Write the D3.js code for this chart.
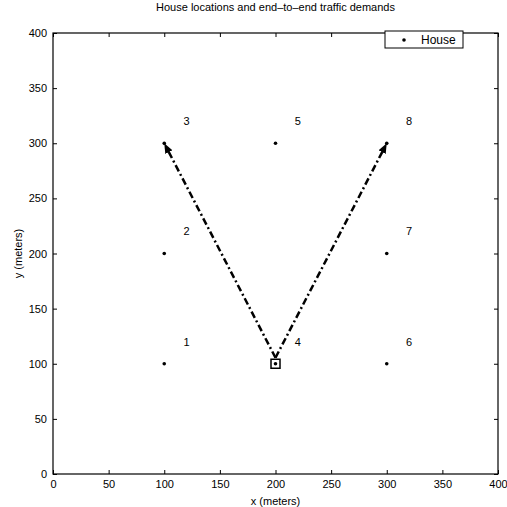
<!DOCTYPE html>
<html>
<head>
<meta charset="utf-8">
<script src="https://cdn.jsdelivr.net/npm/d3@7.9.0/dist/d3.min.js"></script>
<style>
  body { margin: 0; background: #fff; }
  svg { display: block; font-family: "Liberation Sans", Arial, sans-serif; }
</style>
</head>
<body>
<svg id="chart" width="507" height="507"></svg>
<script>
// House positions (meters)
const houseIds = [1, 2, 3, 4, 5, 6, 7, 8];
const houseX = [100, 100, 100, 200, 200, 300, 300, 300];
const houseY = [100, 200, 300, 100, 300, 100, 200, 300];

// traffic demands: from house -> to house
const demandFrom = [4, 4];
const demandTo = [3, 8];

// the gateway house drawn with a square
const gateway = 4;

const ticks = [0, 50, 100, 150, 200, 250, 300, 350, 400];

const margin = { left: 53, right: 9, top: 33, bottom: 33 };
const width = 507, height = 507;

const svg = d3.select("#chart");

const x = d3.scaleLinear().domain([0, 400]).range([margin.left, width - margin.right]);
const y = d3.scaleLinear().domain([0, 400]).range([height - margin.bottom, margin.top]);

// frame
svg.append("rect")
  .attr("x", x(0)).attr("y", y(400))
  .attr("width", x(400) - x(0)).attr("height", y(0) - y(400))
  .attr("fill", "none").attr("stroke", "#000").attr("stroke-width", 1.2);

// axes with inward ticks
const axisStyle = g => {
  g.select(".domain").remove();
  g.selectAll("text").attr("font-size", 11).attr("fill", "#000");
  g.selectAll("line").attr("stroke", "#000");
};
svg.append("g").attr("transform", `translate(0,${y(0)})`)
  .call(d3.axisBottom(x).tickValues(ticks).tickSizeInner(-4).tickSizeOuter(0).tickPadding(6))
  .call(axisStyle);
svg.append("g").attr("transform", `translate(0,${y(400)})`)
  .call(d3.axisTop(x).tickValues(ticks).tickSizeInner(-4).tickSizeOuter(0).tickFormat(""))
  .call(axisStyle);
svg.append("g").attr("transform", `translate(${x(0)},0)`)
  .call(d3.axisLeft(y).tickValues(ticks).tickSizeInner(-4).tickSizeOuter(0).tickPadding(6))
  .call(axisStyle);
svg.append("g").attr("transform", `translate(${x(400)},0)`)
  .call(d3.axisRight(y).tickValues(ticks).tickSizeInner(-4).tickSizeOuter(0).tickFormat(""))
  .call(axisStyle);

// labels
svg.append("text")
  .attr("x", (x(0) + x(400)) / 2).attr("y", 11)
  .attr("text-anchor", "middle").attr("font-size", 11)
  .text("House locations and end\u2013to\u2013end traffic demands");
svg.append("text")
  .attr("x", (x(0) + x(400)) / 2).attr("y", height - 2)
  .attr("text-anchor", "middle").attr("font-size", 11)
  .text("x (meters)");
svg.append("text")
  .attr("transform", `translate(22,${(y(0) + y(400)) / 2}) rotate(-90)`)
  .attr("text-anchor", "middle").attr("font-size", 11)
  .text("y (meters)");

// arrowhead
svg.append("defs").append("marker")
  .attr("id", "arrow")
  .attr("viewBox", "0 0 10 10")
  .attr("refX", 10).attr("refY", 5)
  .attr("markerWidth", 4).attr("markerHeight", 4)
  .attr("markerUnits", "strokeWidth")
  .attr("orient", "auto")
  .append("path").attr("d", "M0,1 L10,5 L0,9 z").attr("fill", "#000");

const houses = houseIds.map((id, i) => ({ id, x: houseX[i], y: houseY[i] }));
const byId = new Map(houses.map(h => [h.id, h]));

// demand lines
svg.append("g").selectAll("line")
  .data(demandFrom.map((f, i) => ({ from: byId.get(f), to: byId.get(demandTo[i]) })))
  .join("line")
  .attr("x1", d => x(d.from.x)).attr("y1", d => y(d.from.y) - 6)
  .attr("x2", d => x(d.to.x)).attr("y2", d => y(d.to.y))
  .attr("stroke", "#000").attr("stroke-width", 2.5)
  .attr("stroke-dasharray", "7,3,2,3")
  .attr("marker-end", "url(#arrow)");

// houses
svg.append("g").selectAll("circle")
  .data(houses)
  .join("circle")
  .attr("cx", d => x(d.x)).attr("cy", d => y(d.y))
  .attr("r", 1.8).attr("fill", "#000");

// gateway square
const gw = byId.get(gateway);
svg.append("rect")
  .attr("x", x(gw.x) - 4.5).attr("y", y(gw.y) - 4.5)
  .attr("width", 9).attr("height", 9)
  .attr("fill", "none").attr("stroke", "#000").attr("stroke-width", 1.5);

// house numbers
svg.append("g").selectAll("text")
  .data(houses)
  .join("text")
  .attr("x", d => x(d.x + 20)).attr("y", d => y(d.y + 20))
  .attr("text-anchor", "middle").attr("dy", "0.35em")
  .attr("font-size", 11)
  .text(d => d.id);

// legend
const lg = svg.append("g").attr("transform", `translate(${x(400) - 113},${y(400) - 2})`);
lg.append("rect").attr("x", 0).attr("y", 0).attr("width", 78).attr("height", 17)
  .attr("fill", "#fff").attr("stroke", "#000").attr("stroke-width", 1);
lg.append("circle").attr("cx", 19).attr("cy", 9).attr("r", 1.8).attr("fill", "#000");
lg.append("text").attr("x", 36).attr("y", 13).attr("font-size", 12).text("House");
</script>
</body>
</html>
